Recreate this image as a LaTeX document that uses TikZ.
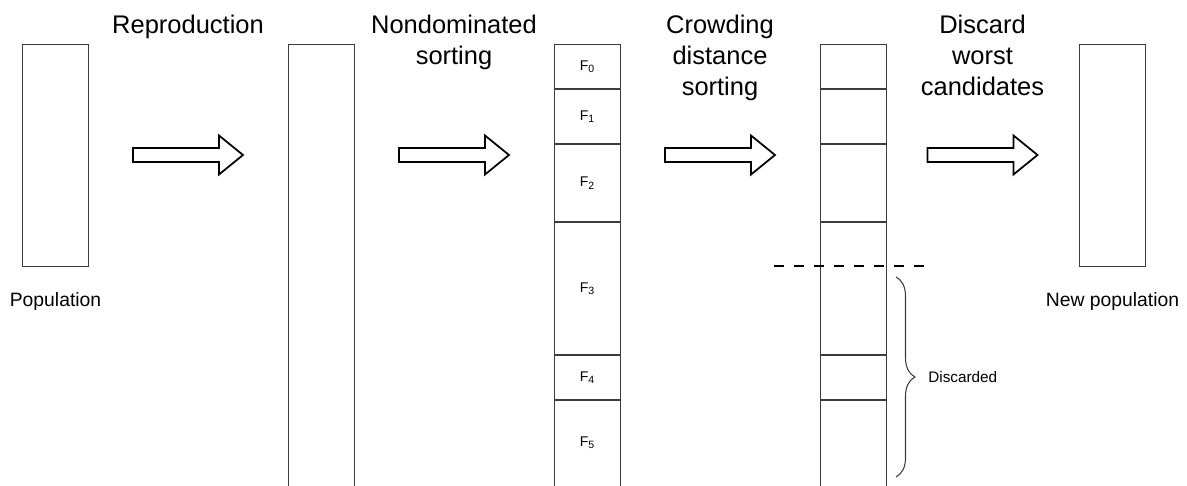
\documentclass[tikz,border=0pt]{standalone}
\usepackage{fontspec}
\setmainfont{Liberation Sans}
\usetikzlibrary{
    positioning,
    decorations.pathreplacing
}
\definecolor{boxline}{RGB}{60,60,60}

\begin{document}
\begin{tikzpicture}[x=0.02cm, y=-0.02cm,
    pool/.style={draw=boxline, line width=0.6pt, minimum width=1.32cm, inner sep=0pt, anchor=north west},
    divider/.style={draw=boxline, line width=0.6pt},
    stage/.style={font=\fontsize{14.5}{17.6}\selectfont, align=center, anchor=north, inner sep=0pt},
    caption/.style={font=\fontsize{11}{13}\selectfont, inner sep=0pt},
    front/.style={font=\fontsize{8}{10}\selectfont, inner sep=0pt},
    blockarrow/.style={draw=black, line width=1pt, fill=white, line join=miter},
    cutline/.style={draw=black, line width=1.7pt, dash pattern=on 5.7pt off 5.7pt}
]
    % Page and clipping (tall columns run off the bottom)
    \useasboundingbox (0,0) rectangle (1187,486);
    \clip (0,0) rectangle (1187,486);

    % Populations
    \node[pool, minimum height=4.44cm] (pop) at (22,44) {};
    \node[pool, minimum height=9.04cm] (mate) at (288,44) {};
    \node[pool, minimum height=9.04cm] (fronts) at (554,44) {};
    \node[pool, minimum height=9.04cm] (crowd) at (820,44) {};
    \node[pool, minimum height=4.44cm] (newpop) at (1079,44) {};

    % Front boundaries
    \foreach \y in {89,144,222,355,400} {
        \draw[divider] (fronts.west |- 0,\y) -- (fronts.east |- 0,\y);
        \draw[divider] (crowd.west |- 0,\y) -- (crowd.east |- 0,\y);
    }

    % Front labels
    \foreach \i/\y in {0/66.5, 1/116.5, 2/183, 3/288.5, 4/377.5, 5/443}
        \node[front] (f\i) at (fronts.north |- 0,\y) {F\textsubscript{\i}};

    % Stage titles
    \node[stage] (reproduce) at (188,15) {Reproduction};
    \node[stage] (ndsort) at (454,15) {Nondominated\\sorting};
    \node[stage] (cdsort) at (720,15) {Crowding\\distance\\sorting};
    \node[stage] (discard) at (982.5,15) {Discard\\worst\\candidates};

    % Block arrows between stages
    \foreach \cx in {188,454,720,982.5}
        \draw[blockarrow] (\cx-55,148) -- (\cx+31,148) -- (\cx+31,135.5) -- (\cx+55,155)
            -- (\cx+31,174.5) -- (\cx+31,162) -- (\cx-55,162) -- cycle;

    % Captions
    \node[caption, below=0.5cm of pop] (poplabel) {Population};
    \node[caption, below=0.5cm of newpop] (newlabel) {New population};

    % Cut-off and discarded part
    \coordinate (cutL) at (774,266);
    \coordinate (cutR) at (924,266);
    \draw[cutline] (cutL) -- (cutR);

    \draw[boxline, line width=0.6pt, decorate, decoration={brace, amplitude=0.38cm}]
        (896,277) -- (896,477);
    \node[font=\fontsize{8.7}{10}\selectfont, inner sep=0pt, anchor=west] (discarded) at (928,377) {Discarded};
\end{tikzpicture}
\end{document}
